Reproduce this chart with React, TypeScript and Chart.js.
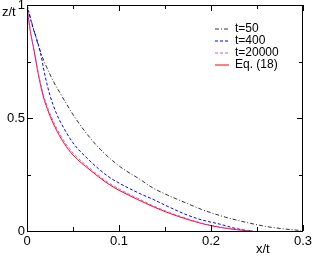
import React, { useEffect, useRef } from "react";
import { Chart, registerables } from "chart.js";

Chart.register(...registerables);

const t50X = [0, 0.005, 0.014, 0.028, 0.036, 0.047, 0.052, 0.065, 0.08, 0.101, 0.123, 0.137, 0.155, 0.174, 0.19, 0.21, 0.23, 0.26, 0.28, 0.298];
const t50Z = [1, 0.925, 0.8, 0.668, 0.61, 0.535, 0.503, 0.43, 0.36, 0.285, 0.228, 0.19, 0.155, 0.122, 0.095, 0.068, 0.046, 0.02, 0.009, 0.002];

const t400X = [0, 0.005, 0.014, 0.02, 0.025, 0.032, 0.038, 0.05, 0.0685, 0.087, 0.101, 0.123, 0.137, 0.155, 0.174, 0.19, 0.21, 0.224, 0.235, 0.245];
const t400Z = [1, 0.92, 0.8, 0.68, 0.6, 0.52, 0.47, 0.39, 0.31, 0.245, 0.21, 0.165, 0.14, 0.105, 0.071, 0.049, 0.03, 0.014, 0.005, 0];

const eqX = [0, 0.003, 0.0076, 0.012, 0.0174, 0.024, 0.0304, 0.04, 0.05, 0.0685, 0.087, 0.101, 0.12, 0.137, 0.155, 0.174, 0.19, 0.21, 0.225, 0.24, 0.245];
const t20000Z = [1, 0.905, 0.805, 0.705, 0.61, 0.53, 0.47, 0.4, 0.345, 0.277, 0.218, 0.184, 0.145, 0.112, 0.082, 0.055, 0.035, 0.018, 0.008, 0.002, 0];
const eqZ = [1, 0.9, 0.8, 0.7, 0.6, 0.52, 0.46, 0.39, 0.336, 0.27, 0.212, 0.178, 0.14, 0.108, 0.078, 0.052, 0.033, 0.016, 0.007, 0.001, 0];

const seriesLabels = ["t=50", "t=400", "t=20000", "Eq. (18)"];
const seriesColors = ["#333333", "#0000ff", "#bb55ff", "#ff0000"];
const seriesDashes = [[4, 2, 1, 2], [3, 2], [3, 2], []];
const xMajorTicks = [0, 0.1, 0.2, 0.3];
const xTickLabels = ["0", "0.1", "0.2", "0.3"];
const xMinorTicks = [0.05, 0.15, 0.25];
const yMajorTicks = [0, 0.5, 1];
const yTickLabels = ["0", "0.5", "1"];
const yMinorTicks = [0.25, 0.75];
const xTitle = "x/t";
const yTitle = "z/t";

const pts = (xs: number[], ys: number[]) => xs.map((x, i) => ({ x, y: ys[i] }));

const FONT = '"Liberation Sans", Arial, Helvetica, sans-serif';

const framePlugin = {
  id: "frame",
  afterDraw(chart: any) {
    const { ctx, chartArea: a, scales } = chart;
    const xs = scales.x;
    const ys = scales.y;
    ctx.save();
    ctx.strokeStyle = "#000";
    ctx.lineWidth = 1;
    ctx.setLineDash([]);
    ctx.strokeRect(Math.round(a.left) + 0.5, Math.round(a.top) + 0.5, Math.round(a.right - a.left) - 1, Math.round(a.bottom - a.top));
    const bx = (v: number) => Math.round(xs.getPixelForValue(v)) + 0.5;
    const by = (v: number) => Math.round(ys.getPixelForValue(v)) + 0.5;
    ctx.beginPath();
    xMajorTicks.forEach((v) => {
      const p = bx(v);
      ctx.moveTo(p, a.bottom); ctx.lineTo(p, a.bottom - 6);
      ctx.moveTo(p, a.top); ctx.lineTo(p, a.top + 6);
    });
    xMinorTicks.forEach((v) => {
      const p = bx(v);
      ctx.moveTo(p, a.bottom); ctx.lineTo(p, a.bottom - 4);
      ctx.moveTo(p, a.top); ctx.lineTo(p, a.top + 4);
    });
    yMajorTicks.forEach((v) => {
      const p = by(v);
      ctx.moveTo(a.left, p); ctx.lineTo(a.left + 6, p);
      ctx.moveTo(a.right, p); ctx.lineTo(a.right - 6, p);
    });
    yMinorTicks.forEach((v) => {
      const p = by(v);
      ctx.moveTo(a.left, p); ctx.lineTo(a.left + 4, p);
      ctx.moveTo(a.right, p); ctx.lineTo(a.right - 4, p);
    });
    ctx.stroke();

    ctx.fillStyle = "#000";
    ctx.font = `13px ${FONT}`;
    ctx.textAlign = "center";
    ctx.textBaseline = "top";
    xMajorTicks.forEach((v, i) => {
      ctx.fillText(xTickLabels[i], xs.getPixelForValue(v), a.bottom + 4);
    });
    ctx.textAlign = "right";
    ctx.textBaseline = "middle";
    yMajorTicks.forEach((v, i) => {
      ctx.fillText(yTickLabels[i], a.left - 2, ys.getPixelForValue(v));
    });
    ctx.textAlign = "left";
    ctx.fillText(yTitle, 2, 12);
    ctx.fillText(xTitle, 256, 249);

    // legend
    ctx.font = `12px ${FONT}`;
    seriesLabels.forEach((label, i) => {
      const yy = 29 + i * 12;
      ctx.save();
      ctx.strokeStyle = seriesColors[i];
      ctx.lineWidth = 1;
      ctx.setLineDash(seriesDashes[i]);
      ctx.beginPath();
      ctx.moveTo(215, yy);
      ctx.lineTo(229, yy);
      ctx.stroke();
      ctx.restore();
      ctx.fillStyle = "#000";
      ctx.fillText(label, 235, yy);
    });
    ctx.restore();
  },
};

export default function App() {
  const ref = useRef<HTMLCanvasElement>(null);
  useEffect(() => {
    if (!ref.current) return;
    const mk = (i: number, xs: number[], zs: number[], order: number) => ({
      label: seriesLabels[i],
      data: pts(xs, zs),
      borderColor: seriesColors[i],
      borderDash: seriesDashes[i],
      borderWidth: 1,
      pointRadius: 0,
      order,
    });
    const chart = new Chart(ref.current, {
      type: "line",
      data: {
        datasets: [
          mk(0, t50X, t50Z, 4),
          mk(1, t400X, t400Z, 3),
          mk(2, eqX, t20000Z, 1),
          mk(3, eqX, eqZ, 2),
        ],
      },
      options: {
        animation: false,
        responsive: false,
        devicePixelRatio: 1,
        layout: { padding: { left: 27, top: 5, right: 9, bottom: 26 } },
        elements: { line: { tension: 0.4, cubicInterpolationMode: "monotone" } },
        plugins: { legend: { display: false }, tooltip: { enabled: false } },
        scales: {
          x: { type: "linear", min: 0, max: 0.3, display: false },
          y: { type: "linear", min: 0, max: 1, display: false },
        },
      },
      plugins: [framePlugin],
    } as any);
    return () => chart.destroy();
  }, []);
  return (
    <div style={{ position: "fixed", left: 0, top: 0, width: 312, height: 257, background: "#fff" }}>
      <canvas ref={ref} width={312} height={257} style={{ width: 312, height: 257, display: "block" }} />
    </div>
  );
}
